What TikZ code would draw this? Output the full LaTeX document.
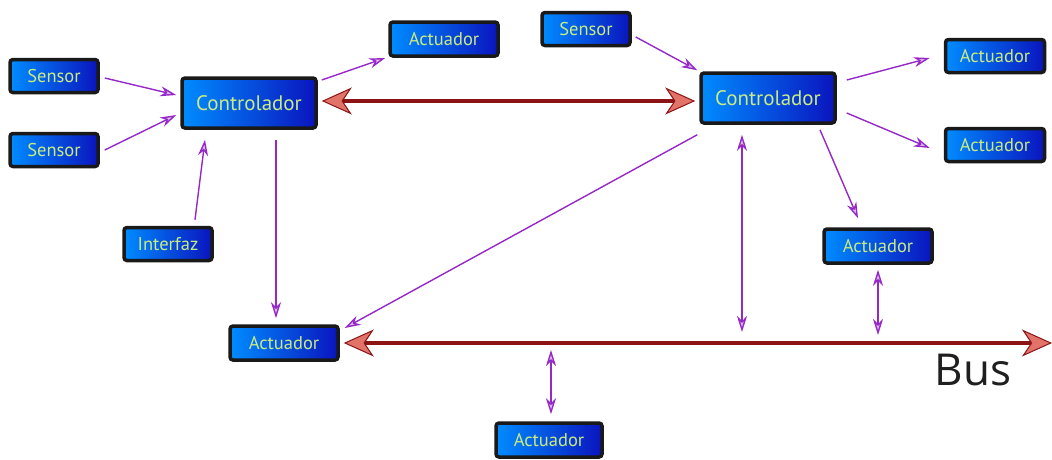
\documentclass[tikz,border=0pt]{standalone}
\usepackage{fontspec}
\setmainfont{PT Sans}
\newfontfamily\busfont{Open Sans}
\usetikzlibrary{arrows.meta}
\definecolor{pur}{RGB}{150,40,200}
\definecolor{dred}{RGB}{140,20,20}
\definecolor{salm}{RGB}{225,115,105}
\definecolor{txt}{RGB}{200,235,130}
\definecolor{bl1}{RGB}{0,140,255}
\definecolor{bl2}{RGB}{10,20,190}
\tikzset{
  ptip/.tip={Stealth[length=16pt,width=10pt,inset=5pt,fill=pur!30]},
  rtip/.tip={Stealth[length=30pt,width=27pt,inset=9pt,fill=salm,line width=1pt]},
  box/.style={draw=black!90, line width=3.5pt, rounded corners=3pt,
    left color=bl1, right color=bl2, text=txt, font=\fontsize{18.5}{20}\selectfont,
    inner sep=0pt},
  ctrl/.style={box, minimum width=134pt, minimum height=50pt, font=\fontsize{21}{23}\selectfont},
  sm/.style={box, minimum width=88pt, minimum height=33pt},
  act/.style={box, minimum width=108pt, minimum height=34pt},
  parr/.style={draw=pur, line width=1.4pt, -ptip},
  pdbl/.style={draw=pur, line width=1.4pt, ptip-ptip},
  rdbl/.style={draw=dred, line width=3.5pt, rtip-rtip}
}
\begin{document}
\begin{tikzpicture}[x=1pt,y=-1pt]
\useasboundingbox (0,0) rectangle (1052,459);
% nodes
\node[sm] (s1) at (54,76) {Sensor};
\node[sm] (s2) at (54,150) {Sensor};
\node[ctrl] (c1) at (249,103) {Controlador};
\node[act] (a1) at (444,39) {Actuador};
\node[sm] (s3) at (586,29) {Sensor};
\node[ctrl] (c2) at (768,98) {Controlador};
\node[sm, minimum width=99pt] (a2) at (995,56) {Actuador};
\node[sm, minimum width=99pt] (a3) at (995,145) {Actuador};
\node[sm] (i1) at (168,244) {Interfaz};
\node[act] (a4) at (878,246) {Actuador};
\node[act] (a5) at (284,343) {Actuador};
\node[act, minimum width=106pt] (a6) at (549,440) {Actuador};
\node[font=\busfont\fontsize{44}{48}\selectfont, text=black!88, inner sep=0pt] (bus) at (973,370) {Bus};
% bus coordinates
\coordinate (busR) at (1052,343);
\coordinate (b1) at (742,343);
\coordinate (b2) at (878,343);
\coordinate (b3) at (551,343);
% red arrows
\draw[rdbl] ([xshift=4pt,yshift=2pt]c1.east) -- ([xshift=-4pt,yshift=-3pt]c2.west);
\draw[rdbl] ([xshift=4pt]a5.east) -- (busR);
% purple arrows
\draw[parr] ([xshift=5pt,yshift=-2pt]s1.east) -- ([xshift=-4pt,yshift=8pt]c1.west);
\draw[parr] ([xshift=5pt]s2.east) -- ([xshift=-4pt,yshift=-12pt]c1.west);
\draw[parr] ([xshift=4pt,yshift=23pt]c1.east) -- ([xshift=-3pt,yshift=-19pt]a1.west);
\draw[parr] ([xshift=27pt,yshift=6pt]i1.north) -- ([xshift=-44pt,yshift=-10pt]c1.south);
\draw[parr] ([xshift=27pt,yshift=-10pt]c1.south) -- ([xshift=-8pt,yshift=6pt]a5.north);
\draw[parr] ([xshift=4pt,yshift=-8pt]s3.east) -- ([xshift=-2pt,yshift=1pt]c2.north west);
\draw[parr] ([xshift=10pt,yshift=18pt]c2.east) -- ([xshift=-14pt,yshift=-2pt]a2.west);
\draw[parr] ([xshift=10pt,yshift=-15pt]c2.east) -- ([xshift=-14pt,yshift=-3pt]a3.west);
\draw[parr] ([xshift=52pt,yshift=-5pt]c2.south) -- ([xshift=-20pt,yshift=9pt]a4.north);
\draw[parr] ([xshift=-2pt,yshift=-10pt]c2.south west) -- ([xshift=5pt,yshift=15pt]a5.east);
\draw[pdbl] ([xshift=-26pt,yshift=-10pt]c2.south) -- ([yshift=11pt]b1);
\draw[pdbl] ([yshift=-5pt]a4.south) -- ([yshift=8pt]b2);
\draw[pdbl] ([yshift=-7pt]b3) -- ([xshift=2pt,yshift=7pt]a6.north);
\end{tikzpicture}
\end{document}
